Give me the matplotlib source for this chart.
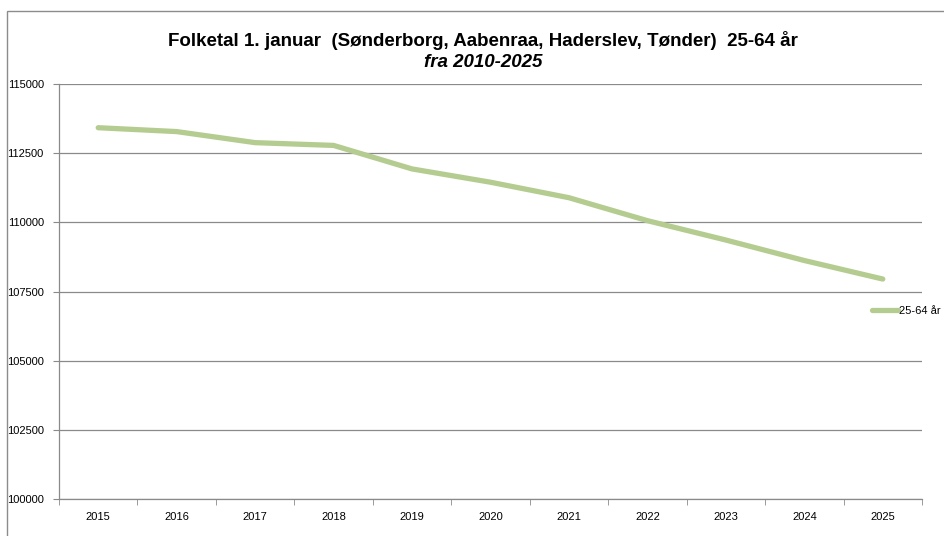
import matplotlib
matplotlib.use("Agg")
import matplotlib.pyplot as plt
from matplotlib.patches import Rectangle
import numpy as np

# data
years = ["2015", "2016", "2017", "2018", "2019", "2020", "2021", "2022", "2023", "2024", "2025"]
values = [113420, 113280, 112880, 112780, 111930, 111450, 110890, 110060, 109360, 108620, 107950]
series_name = "25-64 år"
y_ticks = [100000, 102500, 105000, 107500, 110000, 112500, 115000]

line_color = "#b5cc91"
grid_color = "#8a8a8a"
font = ["Liberation Sans Narrow", "Liberation Sans", "DejaVu Sans"]

fig = plt.figure(figsize=(9.44, 5.36), dpi=100)
fig.patch.set_facecolor("white")

# outer chart frame (runs off the right and bottom edge)
fig.patches.append(Rectangle((7 / 944, -0.05), 1.2, 1 - 11 / 536 + 0.05,
                             transform=fig.transFigure, fill=False,
                             edgecolor="#8c8c8c", linewidth=1.0))

ax = fig.add_axes([59 / 944, 1 - 499 / 536, (922 - 59) / 944, (499 - 84) / 536])
x = np.arange(len(years))
ax.plot(x, values, color=line_color, linewidth=3.8, solid_capstyle="round",
        solid_joinstyle="round", label=series_name)

ax.set_xlim(-0.5, len(years) - 0.5)
ax.set_ylim(y_ticks[0], y_ticks[-1])
ax.set_yticks(y_ticks)
ax.set_yticklabels([str(v) for v in y_ticks], fontsize=8, family=font)
ax.set_xticks(x)
ax.set_xticklabels(years, fontsize=8, family=font)
ax.set_xticks(np.arange(-0.5, len(years)), minor=True)
ax.tick_params(axis="x", which="major", length=0, pad=9)
ax.tick_params(axis="x", which="minor", length=4, color=grid_color, direction="out")
ax.tick_params(axis="y", length=4, color=grid_color, pad=7)
ax.grid(axis="y", color=grid_color, linewidth=0.9)
ax.set_axisbelow(True)
for side in ["top", "right"]:
    ax.spines[side].set_visible(False)
for side in ["left", "bottom"]:
    ax.spines[side].set_color(grid_color)
    ax.spines[side].set_linewidth(0.9)

fig.text(483 / 944, 1 - 40 / 536,
         "Folketal 1. januar  (Sønderborg, Aabenraa, Haderslev, Tønder)  25-64 år",
         ha="center", va="center", fontsize=13.5, fontweight="bold", family=font)
fig.text(483 / 944, 1 - 62 / 536, "fra 2010-2025", ha="center", va="center",
         fontsize=13.5, fontweight="bold", style="italic", family=font)

leg = fig.legend(loc="center left", bbox_to_anchor=(872 / 944, 1 - 311 / 536),
                 frameon=False, prop={"size": 8, "family": font},
                 handlelength=2.3, handletextpad=0.1, borderaxespad=0, borderpad=0)

fig.savefig("out.png", dpi=100)
